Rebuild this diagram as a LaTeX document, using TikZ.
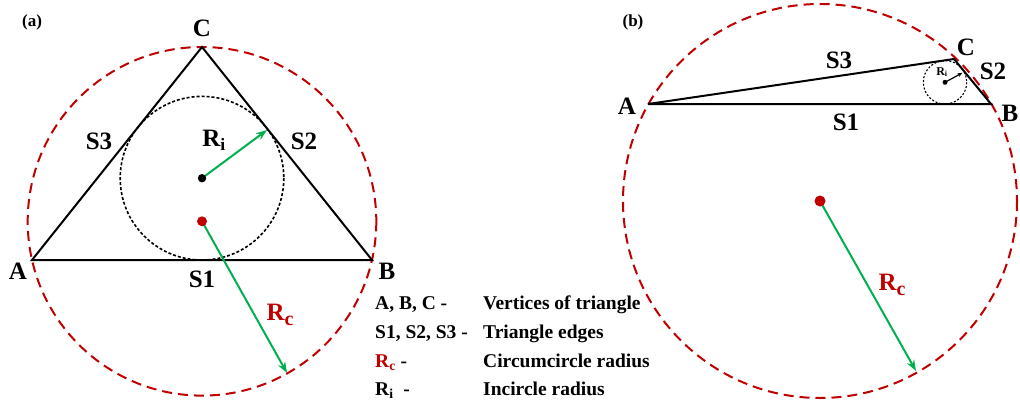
\documentclass[tikz,border=0pt]{standalone}
\usepackage{fontspec}
\usepackage{graphicx}
\setmainfont{Liberation Serif}
\usetikzlibrary{arrows.meta,calc}
\definecolor{CircRed}{RGB}{192,0,0}
\definecolor{RadGreen}{RGB}{0,176,80}
\newcommand{\bigsub}[1]{\raisebox{-.22em}{\scalebox{.8}{#1}}}

\begin{document}
\begin{tikzpicture}[x=1pt,y=-1pt,
    lbl/.style={font=\fontsize{25}{25}\selectfont\bfseries,inner sep=0pt},
    tag/.style={font=\fontsize{17}{17}\selectfont\bfseries,inner sep=0pt},
    legend/.style={font=\fontsize{19.5}{20}\selectfont\bfseries,anchor=base west,inner sep=0pt},
    circum/.style={CircRed,line width=2pt,dash pattern=on 10pt off 6pt},
    incirc/.style={black,line width=1.6pt,dash pattern=on 3pt off 2pt},
    radius/.style={RadGreen,line width=2pt,-{Stealth[length=11pt,width=8pt]}},
    edge/.style={black,line width=2pt,line join=miter}]
  \useasboundingbox (0,0) rectangle (1020,402);

  % (a) near equilateral triangle
  \coordinate (aA) at (32,260);
  \coordinate (aB) at (372,260);
  \coordinate (aC) at (202,47);
  \coordinate (aO) at (202,221.3);
  \coordinate (aI) at (202,178.2);
  \coordinate (aRc) at (287,373);
  \coordinate (aRi) at (267,130);
  \draw[circum] (aO) circle (174.3);
  \draw[incirc] (aI) circle (81.8);
  \draw[edge] (aA) -- (aB) -- (aC) -- cycle;
  \draw[radius] (aO) -- (aRc);
  \draw[radius] (aI) -- (aRi);
  \fill[CircRed] (aO) circle (5);
  \fill (aI) circle (4.2);
  \node[tag] (tagA) at (32,22) {(a)};
  \node[lbl] (aLabA) at (18,271) {A};
  \node[lbl] (aLabB) at (387,271) {B};
  \node[lbl] (aLabC) at (202,28) {C};
  \node[lbl] (aLabS1) at (202,279) {S1};
  \node[lbl] (aLabS2) at (304,141) {S2};
  \node[lbl] (aLabS3) at (99,141) {S3};
  \node[lbl] (aLabRi) at (214,140) {R\textsubscript{i}};
  \node[lbl,CircRed] (aLabRc) at (280,315) {R\bigsub{c}};

  % legend
  \foreach \y/\key/\txt in {309/{A, B, C -}/Vertices of triangle,
      338/{S1, S2, S3 -}/Triangle edges,
      367/{\textcolor{CircRed}{R\textsubscript{c}} -}/Circumcircle radius,
      395/{R\textsubscript{i}\ \ -}/Incircle radius}{
    \node[legend] (key\y) at (375,\y) {\key};
    \node[legend] (txt\y) at (483,\y) {\txt};
  }

  % (b) obtuse triangle
  \coordinate (bA) at (648,104);
  \coordinate (bB) at (991,104);
  \coordinate (bC) at (954,59);
  \coordinate (bO) at (820,201);
  \coordinate (bI) at (945,82.3);
  \coordinate (bRc) at (916,371);
  \coordinate (bRi) at (962.5,72.8);
  \draw[circum] (bO) circle (197);
  \draw[black,line width=1.1pt,dash pattern=on 2pt off 1.8pt] (bI) circle (21.7);
  \draw[edge] (bA) -- (bB) -- (bC) -- cycle;
  \draw[radius] (bO) -- (bRc);
  \draw[black,line width=1.2pt,-{Stealth[length=5pt,width=4pt]}] (bI) -- (bRi);
  \fill[CircRed] (bO) circle (5.5);
  \fill (bI) circle (2.5);
  \node[tag] (tagB) at (633,22) {(b)};
  \node[lbl] (bLabA) at (627,106) {A};
  \node[lbl] (bLabB) at (1010,113) {B};
  \node[lbl] (bLabC) at (966,47) {C};
  \node[lbl] (bLabS1) at (846,122) {S1};
  \node[lbl] (bLabS2) at (993,71) {S2};
  \node[lbl] (bLabS3) at (839,60) {S3};
  \node[font=\fontsize{12}{12}\selectfont\bfseries,inner sep=0pt] (bLabRi) at (942,72) {R\textsubscript{i}};
  \node[lbl,CircRed] (bLabRc) at (892,285) {R\bigsub{c}};
\end{tikzpicture}
\end{document}
